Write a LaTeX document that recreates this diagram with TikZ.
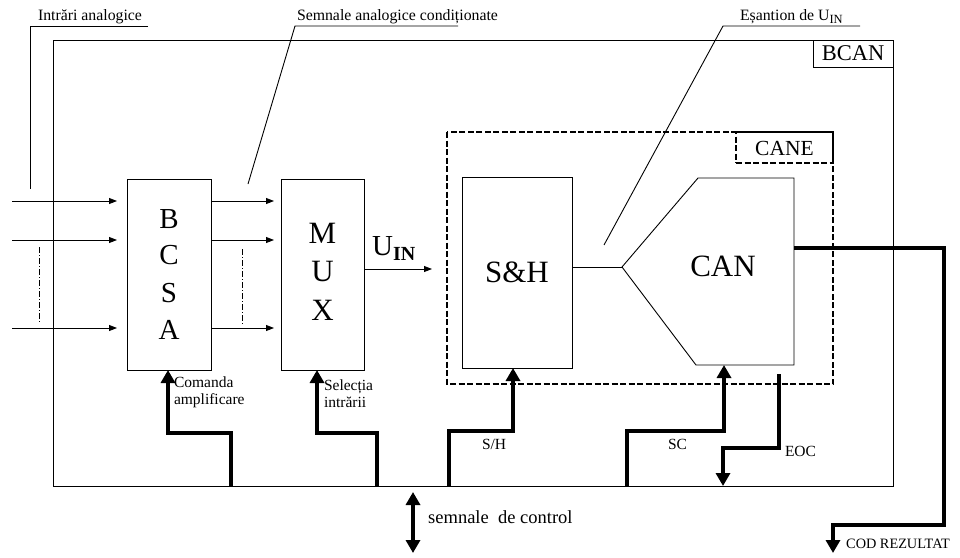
\documentclass[tikz,border=0pt]{standalone}
\usepackage{fontspec}
\setmainfont{Liberation Serif}
\usetikzlibrary{arrows.meta,calc}
\newcommand{\fs}[2]{\fontsize{#1}{#2}\selectfont}
\begin{document}
\begin{tikzpicture}[x=1pt,y=-1pt,
  thinline/.style={line width=0.9pt},
  box/.style={draw,line width=0.9pt,rectangle,inner sep=0pt,outer sep=0pt},
  sig/.style={line width=0.9pt,-{Triangle[length=8pt,width=6pt]}},
  dotline/.style={line width=0.8pt,dash pattern=on 6pt off 2pt on 1pt off 2pt},
  busarrow/.style={line width=4.8pt,-{Triangle[length=13pt,width=14pt]}},
  dbox/.style={draw,line width=2.4pt,dash pattern=on 6pt off 2.5pt,inner sep=0pt,outer sep=0pt},
  lbl/.style={inner sep=0pt,outer sep=0pt,font=\fs{15.8}{18}},
  clbl/.style={inner sep=0pt,outer sep=0pt,align=left,font=\fs{15.5}{17}},
  ]
\useasboundingbox (0,0) rectangle (960,557);

% outer block
\node[box,minimum width=840pt,minimum height=446pt] (bcan) at (473,263) {};
\node[box,minimum width=80pt,minimum height=27pt,font=\fs{22.5}{22}] (bcanlbl) at (853,53.5) {BCAN};

% BCSA and MUX
\node[box,minimum width=84pt,minimum height=191pt] (bcsa) at (169,274.5) {};
\node[inner sep=0pt,align=center,font=\fs{29}{37}] (bcsatxt) at (169,274) {B\\C\\S\\A};
\node[box,minimum width=83pt,minimum height=191pt] (mux) at (322.5,274.5) {};
\node[inner sep=0pt,align=center,font=\fs{31}{38.5}] (muxtxt) at (322.5,271.5) {M\\U\\X};

% CANE dashed block
\draw[dbox] (447,132) rectangle (833,384);
\node[dbox,minimum width=97pt,minimum height=31pt] (canelbl) at (784.5,147.5) {};
\node[inner sep=0pt,font=\fs{21.5}{21}] (canetxt) at (784.5,148) {CANE};

% S&H
\node[box,minimum width=110pt,minimum height=191pt,font=\fs{31}{31}] (sh) at (517,272.5) {S\&H};

% CAN
\coordinate (cantip) at (622,267);
\draw[thinline] (cantip) -- (698,178) -- (794,178) -- (794,365) -- (696,365) -- cycle;
\node[inner sep=0pt,font=\fs{31}{31}] (can) at (723,266) {CAN};
\draw[thinline] (sh.east |- cantip) -- (cantip);

% inputs
\foreach \y/\n in {201/1,240/2,328/3} {
  \coordinate (in\n) at (12,\y);
  \draw[sig] (in\n) -- ($(bcsa.west |- in\n)+(-10,0)$);
  \draw[sig] (bcsa.east |- in\n) -- ($(mux.west |- in\n)+(-7,0)$);
}
\draw[dotline] (39,247) -- (39,323);
\draw[dotline] (242,249) -- (242,325);

% MUX output
\coordinate (uin) at (432,269);
\draw[sig] (mux.east |- uin) -- (uin);
\node[inner sep=0pt,anchor=base west,font=\fs{29}{29}] (uinlbl) at (372,255) {U\raisebox{-0.2em}{\fs{20}{20}\textbf{IN}}};

% top labels with leaders
\node[lbl,anchor=base west] (lin) at (38,20) {Intrări analogice};
\draw[thinline] (148,26) -- (30,26) -- (30,189);
\node[lbl,anchor=base west] (lsem) at (297,20) {Semnale analogice condiționate};
\draw[thinline] (458,26) -- (295,26) -- (248,184);
\node[lbl,anchor=base west] (lesa) at (740,20) {Eșantion de U\raisebox{-0.25em}{\fs{12.5}{12}IN}};
\draw[thinline] (860,26) -- (723,26) -- (604,245);

% control bus signals
\coordinate (b1) at (231,486);
\draw[busarrow] (b1) -- (231,433) -- (168,433) -- (168,0 |- bcsa.south);
\node[clbl,anchor=base west] (lca) at (174,404) {Comanda\\amplificare};

\coordinate (b2) at (377,486);
\draw[busarrow] (b2) -- (377,433) -- (317,433) -- (317,0 |- mux.south);
\node[clbl,anchor=base west] (lsel) at (324,407) {Selecția\\intrării};

\coordinate (b3) at (449,486);
\draw[busarrow] (b3) -- (449,431) -- (513,431) -- (513,0 |- sh.south);
\node[clbl,anchor=base west] (lsh) at (482,449) {S/H};

\coordinate (b4) at (627,486);
\coordinate (canbot) at (724,365);
\draw[busarrow] (b4) -- (627,431) -- (724,431) -- (canbot);
\node[clbl,anchor=base west] (lsc) at (668,449) {SC};

\coordinate (eoc) at (779,374);
\coordinate (b5) at (723,486);
\draw[busarrow] (eoc) -- (779,448) -- (723,448) -- (b5);
\node[clbl,anchor=base west] (leoc) at (785,456) {EOC};

% external control
\coordinate (ctop) at (413,492);
\coordinate (cbot) at (413,553);
\draw[line width=4.8pt,{Triangle[length=13pt,width=14pt]}-{Triangle[length=13pt,width=14pt]}] (ctop) -- (cbot);
\node[inner sep=0pt,anchor=base west,font=\fs{18.5}{18}] (lctl) at (428,523) {semnale\ \ de control};

% result
\coordinate (canR) at (794,248);
\coordinate (res) at (833,553);
\draw[busarrow] (canR) -- (944,248) -- (944,525) -- (833,525) -- (res);
\node[inner sep=0pt,anchor=base west,font=\fs{14.3}{14}] (lres) at (846,548) {COD REZULTAT};
\end{tikzpicture}
\end{document}
